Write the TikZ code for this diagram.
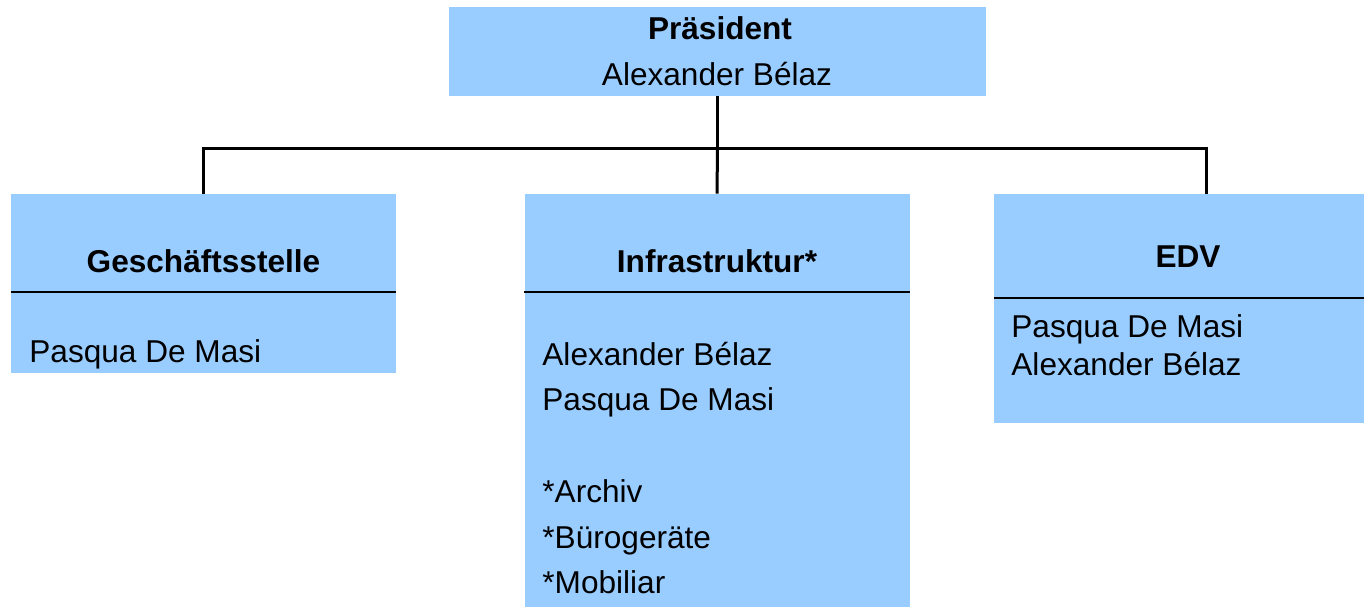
\documentclass[tikz,border=0pt]{standalone}
\usepackage{fontspec}
\setmainfont{Liberation Sans}
\usetikzlibrary{calc}
\definecolor{boxblue}{HTML}{99CCFF}

\begin{document}
\begin{tikzpicture}[x=0.5pt, y=-0.5pt,
	unit/.style={rectangle, fill=boxblue, draw=none, inner sep=0pt},
	head/.style={anchor=base, inner sep=0pt, font=\fontsize{15.8}{19}\selectfont\bfseries},
	entry/.style={anchor=base west, inner sep=0pt, font=\fontsize{15.8}{19}\selectfont},
	wire/.style={line width=1.5pt, color=black},
	rule/.style={line width=1pt, color=black}]
	\useasboundingbox (0,0) rectangle (1364,606);
	\clip (0,0) rectangle (1364,606);

	\node[unit, minimum width=268.5pt, minimum height=44.5pt](pres) at (717.5,51.5){};
	\node[unit, minimum width=192.5pt, minimum height=89.5pt](gs) at (203.5,283.5){};
	\node[unit, minimum width=192.5pt, minimum height=213pt](infra) at (717,407){};
	\node[unit, minimum width=200pt, minimum height=114.5pt](edv) at (1194,308.5){};

	\node[head](presTitle) at (720,39){Präsident};
	\node[entry, anchor=base](presName) at (717,85){Alexander Bélaz};

	\node[head](gsTitle) at (203.5,272){Geschäftsstelle};
	\node[entry](gsName) at (29,362){Pasqua De Masi};

	\node[head](infraTitle) at (717,272){Infrastruktur*};
	\node[entry](infraOne) at (542,365){Alexander Bélaz};
	\node[entry](infraTwo) at (542,410){Pasqua De Masi};
	\node[entry](infraArchiv) at (542,502){*Archiv};
	\node[entry](infraBuero) at (542,548){*Bürogeräte};
	\node[entry](infraMobil) at (542,593){*Mobiliar};

	\node[head](edvTitle) at (1188,267){EDV};
	\node[entry](edvOne) at (1011,337){Pasqua De Masi};
	\node[entry](edvTwo) at (1011,375){Alexander Bélaz};

	\draw [rule] ($(gs.north west)+(0,98)$) -- ($(gs.north east)+(0,98)$);
	\draw [rule] ($(infra.north west)+(0,98)$) -- ($(infra.north east)+(0,98)$);
	\draw [rule] ($(edv.north west)+(0,104)$) -- ($(edv.north east)+(0,104)$);

	\coordinate (hub) at (717.5,148);
	\coordinate (edvIn) at (1206,194);
	\draw [wire] (pres.south) -- (hub);
	\draw [wire] (hub) -- (infra.north);
	\draw [wire] (gs.north) |- (hub) -| (edvIn);
\end{tikzpicture}
\end{document}
